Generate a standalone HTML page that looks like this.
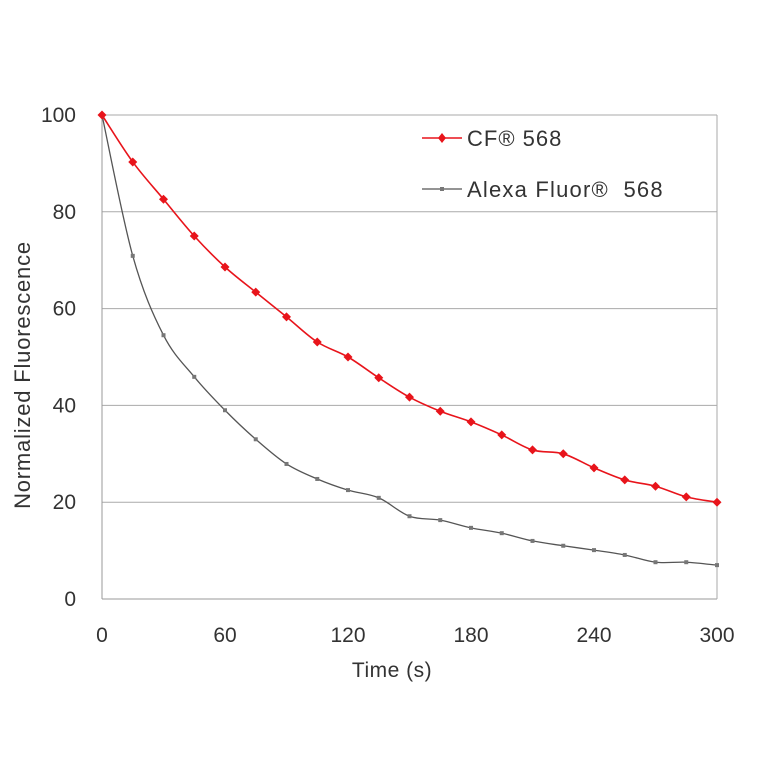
<!DOCTYPE html>
<html><head><meta charset="utf-8"><style>
body{margin:0;background:#fff;}
svg text{font-family:"Liberation Sans",sans-serif;fill:#333;}
</style></head><body>
<svg width="764" height="764" viewBox="0 0 764 764">
<g id="grid"></g><g id="axes"></g><g id="series"></g>
<g>
 <line x1="422" y1="138" x2="462" y2="138" stroke="#e8141b" stroke-width="1.5"/>
 <path d="M442 133 L446 138 L442 143 L438 138Z" fill="#e8141b"/>
 <text x="467" y="146" font-size="22" letter-spacing="1" xml:space="preserve">CF® 568</text>
 <line x1="422" y1="189" x2="462" y2="189" stroke="#555" stroke-width="1.2"/>
 <rect x="440" y="187" width="4" height="4" fill="#777"/>
 <text x="467" y="197" font-size="22" letter-spacing="1.2" xml:space="preserve">Alexa Fluor®  568</text>
</g>
<text x="392" y="677" font-size="21" letter-spacing="0.5" text-anchor="middle">Time (s)</text>
<text transform="translate(30,375) rotate(-90)" font-size="22" letter-spacing="0.8" text-anchor="middle">Normalized Fluorescence</text>
</svg>
<script>
const times=[0,15,30,45,60,75,90,105,120,135,150,165,180,195,210,225,240,255,270,285,300];
const cf568=[100,90.3,82.6,75,68.6,63.4,58.3,53.1,50,45.7,41.7,38.8,36.6,33.9,30.8,30,27.1,24.6,23.3,21.1,20];
const alexa568=[100,70.9,54.5,45.9,39,33,27.9,24.8,22.5,20.9,17.1,16.3,14.7,13.6,12,11,10.1,9.1,7.6,7.6,7];
const xTicks=[0,60,120,180,240,300];
const yTicks=[0,20,40,60,80,100];
const NS='http://www.w3.org/2000/svg';
const x=v=>102+v/300*615, y=v=>599-v/100*484;
function mk(t,a,p){const e=document.createElementNS(NS,t);for(const k in a)e.setAttribute(k,a[k]);p.appendChild(e);return e;}
const grid=document.getElementById('grid'),axes=document.getElementById('axes'),ser=document.getElementById('series');
yTicks.forEach(v=>{
 const l=mk('line',{x1:x(0),x2:x(300),y1:y(v),y2:y(v),stroke:v==0?'#999':'#aaa','stroke-width':1},grid);
 
 
 const t=mk('text',{x:76,y:y(v)+7,'font-size':21,'text-anchor':'end'},axes);t.textContent=v;
 
 
});
mk('line',{x1:x(300),x2:x(300),y1:y(0),y2:y(100),stroke:'#aaa'},grid);
mk('line',{x1:x(0),x2:x(0),y1:y(0),y2:y(100),stroke:'#999'},grid);
xTicks.forEach(v=>{
 const t=mk('text',{x:x(v),y:642,'font-size':21,'text-anchor':'middle'},axes);t.textContent=v;
 
 
});
function smooth(vals){
 const P=vals.map((v,i)=>[x(times[i]),y(v)]);let d='M'+P[0];
 for(let i=0;i<P.length-1;i++){const p0=P[i-1]||P[i],p1=P[i],p2=P[i+1],p3=P[i+2]||p2;
  d+=` C${p1[0]+(p2[0]-p0[0])/6},${p1[1]+(p2[1]-p0[1])/6} ${p2[0]-(p3[0]-p1[0])/6},${p2[1]-(p3[1]-p1[1])/6} ${p2[0]},${p2[1]}`;}
 return d;}
const g1=mk('path',{d:smooth(alexa568),fill:'none',stroke:'#555','stroke-width':1.3},ser);


alexa568.forEach((v,i)=>{const r=mk('rect',{x:x(times[i])-2,y:y(v)-2,width:4,height:4,fill:'#777'},ser);
 
 });
const g2=mk('path',{d:smooth(cf568),fill:'none',stroke:'#e8141b','stroke-width':1.6},ser);


cf568.forEach((v,i)=>{const cx=x(times[i]),cy=y(v);const p=mk('path',{d:`M${cx} ${cy-4.5}L${cx+4.5} ${cy}L${cx} ${cy+4.5}L${cx-4.5} ${cy}Z`,fill:'#e8141b'},ser);
 
 });
</script>
</body></html>
